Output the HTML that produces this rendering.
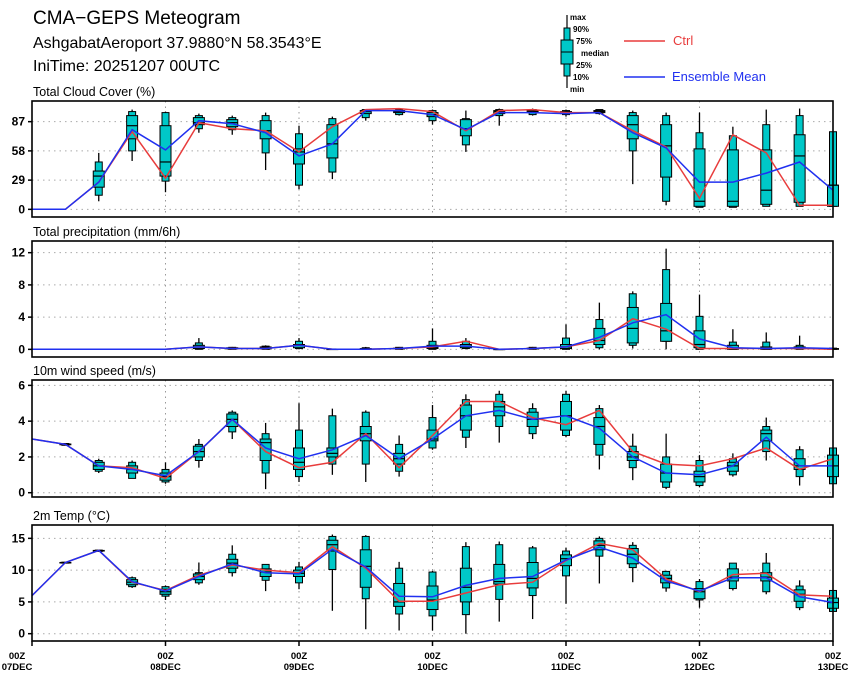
<!DOCTYPE html>
<html><head><meta charset="utf-8">
<style>
html,body{margin:0;padding:0;background:#fff;}
svg{display:block;font-family:"Liberation Sans",sans-serif;}
</style></head>
<body>
<svg id="chart" width="860" height="680" viewBox="0 0 860 680" xmlns="http://www.w3.org/2000/svg">
<rect width="860" height="680" fill="#fff"/>
<text x="33" y="24" font-size="19" fill="#000">CMA−GEPS Meteogram</text>
<text x="33" y="48" font-size="16" fill="#000">AshgabatAeroport 37.9880°N 58.3543°E</text>
<text x="33" y="71" font-size="16" fill="#000">IniTime: 20251207 00UTC</text>
<g>
  <line x1="567" y1="15" x2="567" y2="88" stroke="#000" stroke-width="1.2"/>
  <rect x="564" y="28" width="6" height="48" fill="#00c8c8" stroke="#000"/>
  <rect x="561" y="40" width="12" height="24" fill="#00c8c8" stroke="#000"/>
  <line x1="561" y1="52" x2="573" y2="52" stroke="#000"/>
  <text x="570" y="20" font-size="8" font-weight="bold">max</text>
  <text x="573" y="32" font-size="8" font-weight="bold">90%</text>
  <text x="576" y="44" font-size="8" font-weight="bold">75%</text>
  <text x="581" y="56" font-size="8" font-weight="bold">median</text>
  <text x="576" y="68" font-size="8" font-weight="bold">25%</text>
  <text x="573" y="80" font-size="8" font-weight="bold">10%</text>
  <text x="570" y="92" font-size="8" font-weight="bold">min</text>
  <line x1="624" y1="41" x2="665" y2="41" stroke="#e83c3c" stroke-width="1.5"/>
  <text x="673" y="45" font-size="13" fill="#e83c3c">Ctrl</text>
  <line x1="624" y1="77" x2="665" y2="77" stroke="#2030f0" stroke-width="1.5"/>
  <text x="672" y="81" font-size="13" fill="#2030f0">Ensemble Mean</text>
</g>
</svg>
<script>
// ---- Data ----
const timeLabels = ["07DEC","08DEC","09DEC","10DEC","11DEC","12DEC","13DEC"];

const cloudMax = [null,null,56,99,97,95,93,96,83,92,99,100,99,98,100,100,99,99,98,96,96,82,99,100,77];
const cloudP90 = [null,null,47,97,96,93,91,93,75,90,99,99,98,90,99,99,98,99,96,93,76,73,84,93,77];
const cloudP75 = [null,null,38,93,83,91,89,88,60,84,98,98,96,89,98,98,97,98,93,84,60,59,59,74,24];
const cloudMed = [null,null,33,83,47,86,86,78,57,65,97,97,94,80,97,97,96,97,84,63,8,8,19,53,24];
const cloudP25 = [null,null,22,70,33,84,82,70,45,51,95,96,92,73,95,96,95,96,70,32,3,3,5,7,3];
const cloudP10 = [null,null,14,58,28,80,79,56,24,37,91,94,88,64,93,94,94,95,58,8,2,2,3,3,3];
const cloudMin = [null,null,8,48,17,76,74,39,20,30,88,93,84,57,83,93,92,94,25,4,2,2,3,3,3];
const cloudMean = [0,0,27,79,59,88,85,76,53,65,98,98,94,79,96,96,95,96,76,61,27,27,36,47,19];
const cloudCtrl = [0,0,27,77,31,86,80,78,57,82,99,100,97,78,98,99,96,96,78,62,11,74,56,4,4];

const precMax = [null,null,null,null,null,1.4,0.3,0.5,1.4,0.1,0.3,0.3,2.6,1.4,0.05,0.3,3.1,5.8,7.2,12.5,6.8,2.5,2.1,1.7,0.2];
const precP90 = [null,null,null,null,null,0.8,0.25,0.4,1.0,0.05,0.2,0.25,1.0,1.0,0.03,0.25,1.4,3.7,6.9,9.9,4.1,0.9,0.9,0.5,0.15];
const precP75 = [null,null,null,null,null,0.5,0.2,0.3,0.6,0.03,0.1,0.15,0.5,0.6,0.02,0.15,0.6,2.6,5.2,5.7,2.3,0.5,0.3,0.3,0.1];
const precMed = [null,null,null,null,null,0.3,0.1,0.2,0.5,0.02,0.05,0.1,0.2,0.4,0.01,0.1,0.3,1.1,2.6,2.3,0.6,0.1,0.1,0.15,0.05];
const precP25 = [null,null,null,null,null,0.1,0.05,0.05,0.2,0,0,0.05,0.1,0.2,0,0.05,0.1,0.6,0.8,1.0,0.2,0,0,0.05,0];
const precP10 = [null,null,null,null,null,0,0,0,0.1,0,0,0,0,0.1,0,0,0,0.2,0.5,1.0,0,0,0,0,0];
const precMin = [null,null,null,null,null,0,0,0,0,0,0,0,0,0,0,0,0,0,0.1,0,0,0,0,0,0];
const precMean = [0,0,0,0,0,0.3,0.1,0.1,0.5,0,0,0.1,0.4,0.4,0,0.1,0.3,1.5,3.3,4.3,1.3,0.2,0.1,0.2,0.1];
const precCtrl = [0,0,0,0,0,0.3,0.1,0.1,0.5,0,0,0.1,0.3,1.0,0,0.1,0.3,1.1,3.8,2.5,0.1,0.1,0.1,0.1,0];

const windMax = [null,2.75,1.9,1.8,1.7,3.0,4.6,3.9,5.0,4.7,4.6,3.2,4.9,5.5,5.7,5.0,5.7,4.9,3.3,3.3,2.1,2.2,4.2,2.6,2.5];
const windP90 = [null,2.75,1.8,1.7,1.3,2.7,4.5,3.3,3.5,4.3,4.5,2.7,4.2,5.2,5.5,4.7,5.5,4.7,2.6,2.0,1.8,1.9,3.7,2.4,2.5];
const windP75 = [null,2.72,1.7,1.5,1.1,2.6,4.4,3.0,2.5,2.5,3.7,2.2,3.5,4.9,5.1,4.5,5.1,4.2,2.3,1.6,1.2,1.7,3.5,1.9,2.1];
const windMed = [null,2.7,1.5,1.3,0.9,2.3,4.1,2.8,1.7,2.2,3.3,1.9,3.0,4.3,4.8,4.1,4.3,3.7,2.0,1.1,0.9,1.5,3.3,1.5,1.5];
const windP25 = [null,2.68,1.3,1.1,0.7,2.0,3.7,1.8,1.3,2.0,2.9,1.6,2.9,3.5,4.3,3.7,3.5,2.7,1.8,0.6,0.6,1.2,2.9,1.3,0.9];
const windP10 = [null,2.65,1.2,0.8,0.6,1.8,3.4,1.1,0.9,1.6,1.6,1.2,2.5,3.1,3.7,3.3,3.2,2.1,1.4,0.3,0.4,1.0,2.3,0.9,0.5];
const windMin = [null,2.65,1.1,0.8,0.5,1.4,3.0,0.2,0.6,1.0,0.6,0.9,2.4,2.5,2.8,3.0,3.1,1.3,0.7,0.2,0.3,0.9,1.8,0.4,0.5];
const windMean = [3.0,2.7,1.5,1.3,0.95,2.3,4.1,2.5,1.9,2.4,3.2,1.9,3.0,4.3,4.6,4.1,4.3,3.6,2.0,1.1,1.0,1.5,3.1,1.5,1.5];
const windCtrl = [3.0,2.7,1.5,1.4,0.8,2.3,4.1,2.3,1.4,1.7,3.3,1.4,3.2,5.1,5.1,4.2,3.8,4.6,2.3,1.6,1.5,1.9,2.5,1.3,1.9];

const tempMax = [null,11.3,13.2,9.0,7.6,11.2,13.9,10.9,11.3,15.6,15.5,11.3,9.9,14.4,14.5,13.8,13.5,15.3,14.4,9.9,8.6,11.1,12.7,8.4,6.8];
const tempP90 = [null,11.25,13.15,8.8,7.4,9.6,12.5,10.9,10.5,15.3,15.3,10.3,9.7,13.7,14.0,13.5,13.0,15.0,13.9,9.8,8.2,11.1,11.1,7.5,6.8];
const tempP75 = [null,11.2,13.1,8.5,7.0,9.4,11.7,10.2,10.0,14.7,13.2,7.9,7.5,10.3,10.9,11.2,12.4,14.6,13.4,9.2,7.1,10.2,9.6,6.9,5.6];
const tempMed = [null,11.2,13.05,8.1,6.6,9.0,11.1,9.7,9.5,14.0,10.6,5.0,5.3,7.3,8.2,8.7,11.8,13.9,12.5,8.7,6.6,8.9,8.9,6.2,4.9];
const tempP25 = [null,11.15,13.0,7.7,6.2,8.5,10.3,9.0,9.0,13.0,7.3,4.3,3.8,5.0,7.8,7.2,10.7,13.2,11.0,8.0,5.5,8.3,8.3,5.1,4.0];
const tempP10 = [null,11.1,12.95,7.4,5.9,8.0,9.6,8.4,8.0,10.1,5.5,3.1,2.8,3.0,5.4,6.0,9.1,12.2,10.4,7.2,5.3,7.1,6.6,4.1,3.5];
const tempMin = [null,11.1,12.9,7.2,5.3,7.7,9.0,6.7,7.0,3.6,0.7,0.5,0.5,0.0,1.9,2.3,4.7,7.9,8.1,6.6,4.1,6.8,6.2,3.7,3.5];
const tempMean = [6.0,11.2,13.1,8.2,6.7,9.0,11.0,9.6,9.4,13.3,10.5,5.9,5.8,7.6,8.7,9.0,11.6,13.6,11.9,8.3,6.7,8.8,8.8,5.8,4.9];
const tempCtrl = [6.0,11.2,13.1,8.1,6.8,9.2,10.8,10.0,9.6,13.7,10.3,5.1,5.1,6.4,7.7,8.1,11.5,14.2,13.2,8.6,6.6,9.3,9.5,6.1,5.9];

const cloudTicks = [0,29,58,87];
const precTicks = [0,4,8,12];
const windTicks = [0,2,4,6];
const tempTicks = [0,5,10,15];

// ---- Layout ----
const X0 = 32, X1 = 833, NSTEP = 24;
function xAt(i){ return X0 + (X1 - X0) * i / NSTEP; }
function makeY(top, bottom, vmin, vmax){ return v => bottom - (v - vmin) / (vmax - vmin) * (bottom - top); }

const panels = [
  {name:"cloud", title:"Total Cloud Cover (%)", top:101, bottom:217, vmin:-7.6, vmax:107.5, ticks:cloudTicks,
   mx:cloudMax,p90:cloudP90,p75:cloudP75,md:cloudMed,p25:cloudP25,p10:cloudP10,mn:cloudMin,mean:cloudMean,ctrl:cloudCtrl},
  {name:"precip", title:"Total precipitation (mm/6h)", top:241, bottom:357, vmin:-0.95, vmax:13.45, ticks:precTicks,
   mx:precMax,p90:precP90,p75:precP75,md:precMed,p25:precP25,p10:precP10,mn:precMin,mean:precMean,ctrl:precCtrl},
  {name:"wind", title:"10m wind speed (m/s)", top:380, bottom:497, vmin:-0.24, vmax:6.3, ticks:windTicks,
   mx:windMax,p90:windP90,p75:windP75,md:windMed,p25:windP25,p10:windP10,mn:windMin,mean:windMean,ctrl:windCtrl},
  {name:"temp", title:"2m Temp (°C)", top:525, bottom:641, vmin:-1.15, vmax:17.1, ticks:tempTicks,
   mx:tempMax,p90:tempP90,p75:tempP75,md:tempMed,p25:tempP25,p10:tempP10,mn:tempMin,mean:tempMean,ctrl:tempCtrl}
];

const svg = document.getElementById('chart');
const NS = "http://www.w3.org/2000/svg";
function el(tag, attrs, parent){
  const e = document.createElementNS(NS, tag);
  for (const k in attrs) e.setAttribute(k, attrs[k]);
  (parent || svg).appendChild(e);
  return e;
}

panels.forEach((p, pi) => {
  const y = makeY(p.top, p.bottom, p.vmin, p.vmax);
  const g = el('g', {});
  
  

  const t = el('text', {x:33, y:p.top - 5, 'font-size':12.5}, g);
  t.textContent = p.title;
  
  

  for (let d = 1; d < timeLabels.length - 1; d++) {
    const gx = xAt(d * 4);
    const gl = el('line', {x1:gx, x2:gx, y1:p.top, y2:p.bottom, stroke:'#999', 'stroke-dasharray':'1.5,4', 'stroke-width':1}, g);
    
    
  }
  p.ticks.forEach(tv => {
    const ty = y(tv);
    const hl = el('line', {x1:X0, x2:X1, y1:ty, y2:ty, stroke:'#aaa', 'stroke-dasharray':'1.5,4', 'stroke-width':1}, g);
    
    
    const tk = el('line', {x1:X0 - 4, x2:X0, y1:ty, y2:ty, stroke:'#000', 'stroke-width':1.5}, g);
    
    
    const tl = el('text', {x:X0 - 7, y:ty + 4, 'font-size':12, 'font-weight':'bold', 'text-anchor':'end'}, g);
    tl.textContent = tv;
    
    
  });

  for (let i = 0; i <= NSTEP; i++) {
    if (p.mx[i] === null) continue;
    const cx = xAt(i);
    const bg = el('g', {}, g);
    
    
    el('line', {x1:cx, x2:cx, y1:y(p.mx[i]), y2:y(p.mn[i]), stroke:'#000', 'stroke-width':1.3}, bg);
    el('rect', {x:cx - 3.5, y:y(p.p90[i]), width:7, height:Math.max(0.5, y(p.p10[i]) - y(p.p90[i])), fill:'#00c8c8', stroke:'#000', 'stroke-width':1}, bg);
    el('rect', {x:cx - 5.5, y:y(p.p75[i]), width:11, height:Math.max(0.5, y(p.p25[i]) - y(p.p75[i])), fill:'#00c8c8', stroke:'#000', 'stroke-width':1}, bg);
    el('line', {x1:cx - 5.5, x2:cx + 5.5, y1:y(p.md[i]), y2:y(p.md[i]), stroke:'#000', 'stroke-width':1.2}, bg);
  }

  const ctrlPts = p.ctrl.map((v, i) => xAt(i).toFixed(1) + ',' + y(v).toFixed(1)).join(' ');
  const cl = el('polyline', {points:ctrlPts, fill:'none', stroke:'#e83c3c', 'stroke-width':1.5}, g);
  
  
  const meanPts = p.mean.map((v, i) => xAt(i).toFixed(1) + ',' + y(v).toFixed(1)).join(' ');
  const ml = el('polyline', {points:meanPts, fill:'none', stroke:'#2030f0', 'stroke-width':1.5}, g);
  
  

  const fr = el('rect', {x:X0, y:p.top, width:X1 - X0, height:p.bottom - p.top, fill:'none', stroke:'#000', 'stroke-width':1.6}, g);
  
  

  if (pi === panels.length - 1) {
    timeLabels.forEach((lab, d) => {
      const tx = xAt(d * 4);
      const lx = d === 0 ? 17 : tx;
      const tk = el('line', {x1:tx, x2:tx, y1:p.bottom, y2:p.bottom + 5, stroke:'#000', 'stroke-width':1.5}, g);
      
      
      const l1 = el('text', {x:lx, y:p.bottom + 18, 'font-size':9.5, 'font-weight':'bold', 'text-anchor':'middle'}, g);
      l1.textContent = '00Z';
      
      
      const l2 = el('text', {x:lx, y:p.bottom + 29, 'font-size':9.5, 'font-weight':'bold', 'text-anchor':'middle'}, g);
      l2.textContent = lab;
      
      
    });
  }
});
</script>
</body></html>
